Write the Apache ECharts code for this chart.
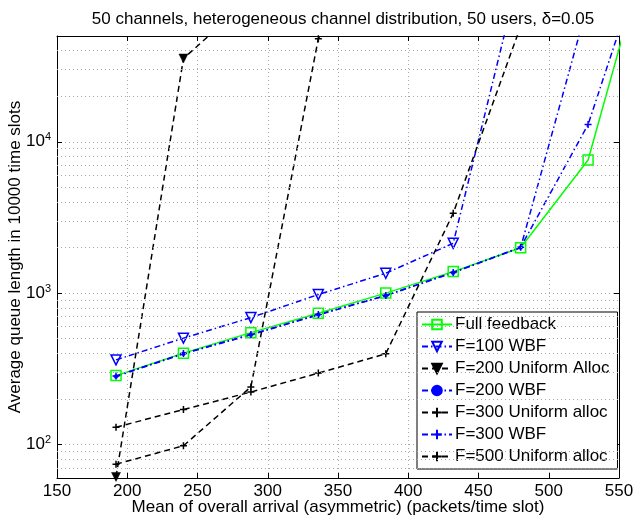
<!DOCTYPE html>
<html><head><meta charset="utf-8">
<script src="https://cdn.jsdelivr.net/npm/echarts@6/dist/echarts.min.js"></script>
<style>html,body{margin:0;padding:0;background:#fff}#c{width:636px;height:516px}</style>
</head><body><div id="c"></div>
<script>
// ---- data ----
const titleText = '50 channels, heterogeneous channel distribution, 50 users, \u03b4=0.05';
const xName = 'Mean of overall arrival (asymmetric) (packets/time slot)';
const yName = 'Average queue length in 10000 time slots';
const arrivals = [192, 240, 288, 336, 384, 432, 480, 528, 576];
const fullFeedback = [285, 401, 548, 736, 1000, 1387, 1995, 7570, 300000];
const f100WBF = [362, 504, 689, 978, 1353, 2133, 140000];
const f200Uniform = [61, 35500, 89000];
const f200WBF = [281, 397, 530, 718, 962, 1365, 2000, 83000];
const f300Uniform = [74, 98, 240, 48000, 200000];
const f300WBF = [283, 399, 533, 722, 965, 1370, 2010, 13000, 290000];
const f500Uniform = [130, 170, 222, 296, 397, 3370, 58000];
const seriesNames = ['Full feedback', 'F=100 WBF', 'F=200 Uniform Alloc', 'F=200 WBF', 'F=300 Uniform alloc', 'F=300 WBF', 'F=500 Uniform alloc'];
const xTicks = [150, 200, 250, 300, 350, 400, 450, 500, 550];
const yMinorGrid = [70, 80, 90, 200, 300, 400, 500, 600, 700, 800, 900, 2000, 3000, 4000, 5000, 6000, 7000, 8000, 9000, 20000, 30000, 40000];

const pairs = vals => vals.map((v, i) => [arrivals[i], v]);
const FONT = 'Liberation Sans';
const FS = 17;
const BLUE = '#0000ff', GREEN = '#00ff00', BLACK = '#000000';
const dashDot = [6, 3, 1.5, 3];
const dashed = [6, 4];
const plusPath = 'path://M5,0L5,10M0,5L10,5';
const gridStyle = {color: '#a8a8a8', width: 1, type: [1, 3]};

function mkSeries(name, vals, color, dash, symbol, size, filled, rot) {
  return {
    name, type: 'line', data: pairs(vals), clip: true,
    symbol, symbolSize: size, symbolRotate: rot || 0, showSymbol: true,
    lineStyle: {color, width: 1.5, type: dash},
    itemStyle: filled ? {color, borderColor: color, borderWidth: 0.5} : {color: 'rgba(0,0,0,0)', borderColor: color, borderWidth: 1.5},
    emphasis: {disabled: true}, animation: false
  };
}

const series = [
  mkSeries(seriesNames[0], fullFeedback, GREEN, 'solid', 'rect', 10, false),
  mkSeries(seriesNames[1], f100WBF, BLUE, dashDot, 'triangle', 10, false, 180),
  mkSeries(seriesNames[2], f200Uniform, BLACK, dashed, 'triangle', 9, true, 180),
  mkSeries(seriesNames[3], f200WBF, BLUE, dashDot, 'circle', 4, true),
  mkSeries(seriesNames[4], f300Uniform, BLACK, dashed, plusPath, 7, false),
  mkSeries(seriesNames[5], f300WBF, BLUE, dashDot, plusPath, 7, false),
  mkSeries(seriesNames[6], f500Uniform, BLACK, dashed, plusPath, 7, false)
];
// minor log grid lines drawn through the y scale
series.push({
  type: 'line', data: [], silent: true, animation: false,
  markLine: {silent: true, symbol: 'none', label: {show: false}, lineStyle: gridStyle, animation: false,
    data: yMinorGrid.map(v => ({yAxis: v}))}
});

const supFmt = v => {
  const e = Math.round(Math.log10(v));
  if (Math.abs(v - Math.pow(10, e)) / v < 1e-6) return '{b|10}{s|' + e + '}';
  return '';
};

const chart = echarts.init(document.getElementById('c'), null, {renderer: 'canvas'});
chart.setOption({
  animation: false,
  backgroundColor: '#fff',
  title: {text: titleText, left: 338, top: 6, textAlign: 'center',
    textStyle: {fontFamily: FONT, fontSize: FS, fontWeight: 'normal', color: '#000'}},
  grid: {left: 57, right: 17, top: 36, bottom: 38, containLabel: false, outerBoundsMode: 'none'},
  legend: {
    data: seriesNames, orient: 'vertical', left: 417, top: 312,
    backgroundColor: '#fff', borderColor: '#000', borderWidth: 1,
    padding: [4, 8, 4, 4], itemGap: 5, itemWidth: 30, itemHeight: 12,
    textStyle: {fontFamily: FONT, fontSize: FS, color: '#000', padding: [0, 0, 0, -2]}
  },
  xAxis: [{
    type: 'value', min: 150, max: 550, interval: 50, position: 'bottom',
    name: xName, nameLocation: 'middle', nameGap: 21, nameMoveOverlap: false,
    nameTextStyle: {fontFamily: FONT, fontSize: FS, color: '#000'},
    axisLine: {lineStyle: {color: '#000', width: 1}},
    axisTick: {inside: true, length: 5, lineStyle: {color: '#000'}},
    axisLabel: {fontFamily: FONT, fontSize: FS, color: '#000', margin: 5},
    splitLine: {show: true, lineStyle: gridStyle}
  }, {
    type: 'value', min: 150, max: 550, interval: 50, position: 'top',
    axisLine: {lineStyle: {color: '#000', width: 1}},
    axisTick: {inside: true, length: 5, lineStyle: {color: '#000'}},
    axisLabel: {show: false}, splitLine: {show: false}
  }],
  yAxis: [{
    type: 'log', logBase: 10, min: 60, max: 50000, position: 'left',
    name: yName, nameLocation: 'middle', nameGap: 33, nameMoveOverlap: false,
    nameTextStyle: {fontFamily: FONT, fontSize: FS, color: '#000'},
    axisLine: {show: true, lineStyle: {color: '#000', width: 1}},
    axisTick: {inside: true, length: 5, lineStyle: {color: '#000'}},
    axisLabel: {formatter: supFmt, margin: 6, showMinLabel: false, showMaxLabel: false,
      rich: {b: {fontFamily: FONT, fontSize: FS, color: '#000'},
             s: {fontFamily: FONT, fontSize: 11, color: '#000', verticalAlign: 'top', padding: [0, 0, 9, 0]}}},
    splitLine: {show: true, lineStyle: gridStyle}
  }, {
    type: 'log', logBase: 10, min: 60, max: 50000, position: 'right',
    axisLine: {show: true, lineStyle: {color: '#000', width: 1}},
    axisTick: {inside: true, length: 5, lineStyle: {color: '#000'}},
    axisLabel: {show: false}, splitLine: {show: false}
  }],
  series
});
</script></body></html>
